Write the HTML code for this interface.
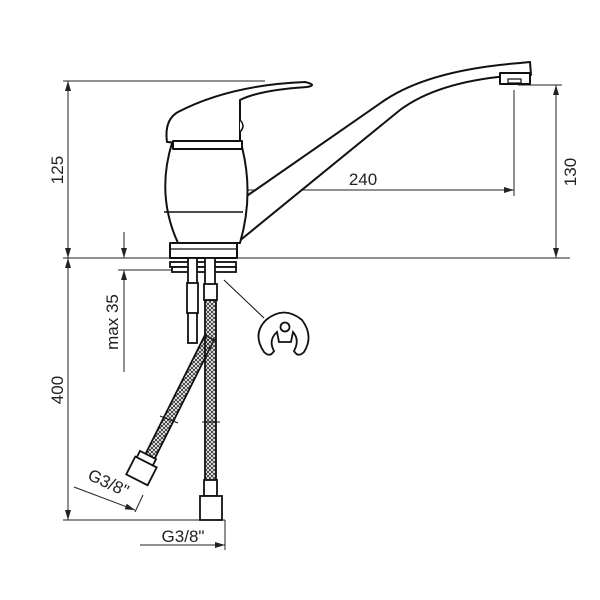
<!DOCTYPE html>
<html><head><meta charset="utf-8"><style>
body{margin:0;background:#fff}
svg{display:block}
text{font-family:"Liberation Sans",sans-serif;font-size:17px;fill:#222}
</style></head><body>
<svg width="600" height="600" viewBox="0 0 600 600" xmlns="http://www.w3.org/2000/svg">
<defs>
<marker id="a" viewBox="0 0 10 6" refX="10" refY="3" markerWidth="10" markerHeight="6" orient="auto-start-reverse" markerUnits="userSpaceOnUse"><path d="M0,0L10,3L0,6z" fill="#222"/></marker>
<pattern id="br" width="4" height="4" patternUnits="userSpaceOnUse"><path d="M0,4L4,0M0,0L4,4" stroke="#333" stroke-width="0.9"/></pattern>
</defs>
<g stroke="#222" stroke-width="1" fill="none">
<line x1="63" y1="81" x2="265" y2="81"/>
<line x1="63" y1="258" x2="570" y2="258"/>
<line x1="118" y1="270" x2="235" y2="270"/>
<line x1="63" y1="520" x2="225" y2="520"/>
<line x1="518" y1="85" x2="562" y2="85"/>
<line x1="68" y1="81" x2="68" y2="258" marker-start="url(#a)" marker-end="url(#a)"/>
<line x1="68" y1="258" x2="68" y2="520" marker-start="url(#a)" marker-end="url(#a)"/>
<line x1="556" y1="85" x2="556" y2="258" marker-start="url(#a)" marker-end="url(#a)"/>
<line x1="205" y1="177" x2="205" y2="199"/>
<line x1="514" y1="90" x2="514" y2="196"/>
<line x1="205" y1="190" x2="514" y2="190" marker-start="url(#a)" marker-end="url(#a)"/>
<line x1="124" y1="232" x2="124" y2="258" marker-end="url(#a)"/>
<line x1="124" y1="372" x2="124" y2="270" marker-end="url(#a)"/>
</g>
<g stroke="#111" stroke-width="2" fill="#fff" stroke-linejoin="round">
<path d="M241,200 L385,100 Q430,70 520,63 L530,62 L531,75 L520,75 Q440,80 400,110 L238,242 Z"/>
<rect x="500" y="73" width="30" height="11"/>
<rect x="508" y="79" width="13" height="4" stroke-width="1.2"/>
<path d="M172,143 L242,147 Q254,195 240,243 L178,243 Q156,195 172,143 Z"/>
<line x1="164" y1="212" x2="243" y2="212" stroke-width="1.6"/>
<rect x="170" y="243" width="67" height="15"/>
<line x1="170" y1="249" x2="237" y2="249" stroke-width="1.2"/>
<path d="M167,142 Q164,120 178,112 Q230,85 305,82 Q318,85 307,87 Q260,90 240,100 L240,146 L205,145 Z"/>
<rect x="173" y="141" width="69" height="8"/>
<path d="M240,120 Q246,126 240,132" stroke-width="1.5"/>
</g>
<g stroke="#111" stroke-width="1.8" fill="#fff">
<rect x="170" y="262" width="66" height="5"/>
<rect x="172" y="267" width="64" height="5"/>
<rect x="188" y="258" width="9" height="85"/>
<rect x="187" y="283" width="11" height="30"/>
<rect x="205" y="258" width="10" height="30"/>
<path d="M205,335 L214,340 L153,462 L144,457 Z" fill="url(#br)"/>
<rect x="-9" y="0" width="18" height="12" transform="translate(148,455) rotate(27)"/>
<rect x="-12" y="0" width="24" height="20" transform="translate(146,462) rotate(27)"/>
<rect x="205" y="300" width="11" height="185" fill="url(#br)"/>
<rect x="204" y="284" width="13" height="16"/>
<rect x="204" y="480" width="13" height="16"/>
<rect x="200" y="496" width="22" height="24"/>
<line x1="202" y1="422" x2="220" y2="422" stroke-width="1"/>
<line x1="160" y1="416" x2="178" y2="423" stroke-width="1"/>
</g>
<g stroke="#111" stroke-width="1.8" fill="none">
<line x1="224" y1="280" x2="264" y2="318" stroke-width="1"/>
<path d="M264,352 Q252,334 266,320 Q284,305 302,320 Q314,336 304,352 Q298,358 294,351 Q300,340 293,332 L291,342 L279,342 L277,332 Q268,340 274,351 Q270,358 264,352 Z"/>
<circle cx="285" cy="327" r="4.5"/>
</g>
<g stroke="#222" stroke-width="1" fill="none">
<line x1="225" y1="520" x2="225" y2="550"/>
<line x1="140" y1="545" x2="225" y2="545" marker-end="url(#a)"/>
<line x1="74" y1="487" x2="135" y2="510" marker-end="url(#a)"/>
<line x1="135" y1="512" x2="143" y2="495"/>
</g>
<text x="363" y="185" text-anchor="middle">240</text>
<text transform="translate(63,170) rotate(-90)" text-anchor="middle">125</text>
<text transform="translate(63,390) rotate(-90)" text-anchor="middle">400</text>
<text transform="translate(576,172) rotate(-90)" text-anchor="middle">130</text>
<text transform="translate(118,322) rotate(-90)" text-anchor="middle">max 35</text>
<text transform="translate(106,488) rotate(25)" text-anchor="middle">G3/8"</text>
<text x="183" y="542" text-anchor="middle">G3/8"</text>
</svg>
</body></html>
